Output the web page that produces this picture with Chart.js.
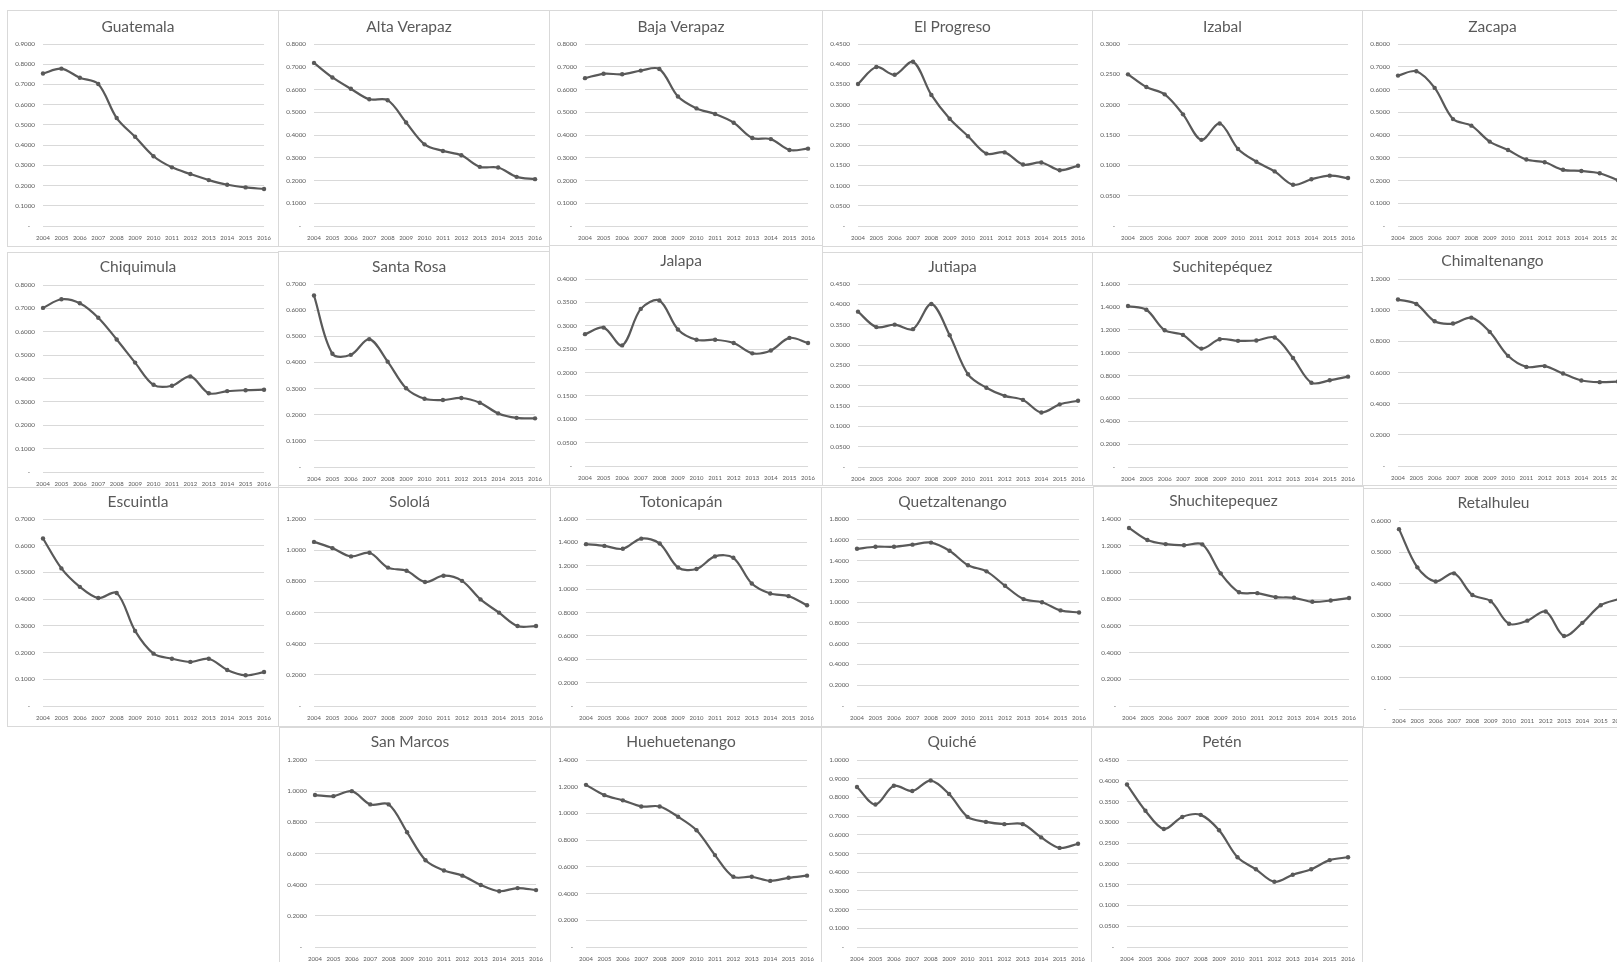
<!DOCTYPE html>
<html><head><meta charset="utf-8">
<script src="https://cdn.jsdelivr.net/npm/chart.js@4/dist/chart.umd.min.js"></script>
<style>
html,body{margin:0;padding:0;background:#fff;overflow:hidden;width:1617px;height:962px;position:relative;}
.p{position:absolute;background:#fff;box-shadow:inset 0 0 0 1px #d9d9d9;}
.p canvas{position:absolute;left:0;top:0;}
</style></head><body>
<script>
const years = ['2004','2005','2006','2007','2008','2009','2010','2011','2012','2013','2014','2015','2016'];

const guatemala      = [0.754,0.778,0.733,0.702,0.534,0.441,0.345,0.290,0.257,0.227,0.204,0.191,0.183];
const altaVerapaz    = [0.717,0.653,0.603,0.557,0.553,0.455,0.359,0.330,0.311,0.260,0.257,0.216,0.206];
const bajaVerapaz    = [0.650,0.669,0.667,0.683,0.690,0.569,0.517,0.492,0.454,0.387,0.382,0.334,0.340];
const elProgreso     = [0.351,0.393,0.374,0.406,0.324,0.265,0.222,0.179,0.182,0.152,0.157,0.138,0.149];
const izabal         = [0.250,0.229,0.217,0.184,0.142,0.169,0.127,0.106,0.090,0.068,0.077,0.083,0.079];
const zacapa         = [0.661,0.680,0.607,0.470,0.441,0.371,0.334,0.292,0.280,0.247,0.242,0.232,0.201];
const chiquimula     = [0.702,0.739,0.722,0.660,0.567,0.468,0.373,0.369,0.409,0.337,0.346,0.350,0.352];
const santaRosa      = [0.656,0.433,0.429,0.489,0.403,0.301,0.261,0.256,0.264,0.246,0.205,0.188,0.186];
const jalapa         = [0.282,0.296,0.258,0.336,0.354,0.292,0.270,0.270,0.263,0.241,0.247,0.274,0.263];
const jutiapa        = [0.382,0.344,0.350,0.339,0.401,0.324,0.228,0.195,0.175,0.165,0.134,0.154,0.163];
const suchitepequez  = [1.407,1.375,1.196,1.155,1.035,1.117,1.103,1.106,1.132,0.953,0.737,0.758,0.790];
const chimaltenango  = [1.068,1.040,0.929,0.914,0.952,0.861,0.707,0.636,0.641,0.594,0.549,0.538,0.542];
const escuintla      = [0.627,0.515,0.446,0.404,0.423,0.281,0.196,0.177,0.165,0.177,0.135,0.115,0.127];
const solola         = [1.053,1.013,0.960,0.983,0.888,0.868,0.796,0.836,0.803,0.684,0.599,0.513,0.513];
const totonicapan    = [1.385,1.370,1.345,1.432,1.390,1.185,1.172,1.280,1.268,1.048,0.962,0.940,0.862];
const quetzaltenango = [1.513,1.533,1.533,1.553,1.573,1.494,1.355,1.296,1.157,1.029,0.999,0.920,0.900];
const shuchitepequez = [1.333,1.243,1.212,1.203,1.210,0.993,0.852,0.845,0.815,0.810,0.780,0.790,0.808];
const retalhuleu     = [0.574,0.452,0.407,0.433,0.364,0.344,0.272,0.282,0.311,0.233,0.275,0.331,0.351];
const sanMarcos      = [0.975,0.968,1.000,0.915,0.915,0.736,0.557,0.491,0.458,0.398,0.358,0.378,0.365];
const huehuetenango  = [1.214,1.137,1.098,1.052,1.052,0.975,0.874,0.688,0.526,0.526,0.495,0.518,0.534];
const quiche         = [0.856,0.762,0.862,0.834,0.890,0.818,0.696,0.669,0.657,0.657,0.586,0.530,0.552];
const peten          = [0.391,0.328,0.284,0.313,0.318,0.281,0.216,0.187,0.157,0.174,0.187,0.209,0.216];

const titles = ['Guatemala','Alta Verapaz','Baja Verapaz','El Progreso','Izabal','Zacapa',
  'Chiquimula','Santa Rosa','Jalapa','Jutiapa','Suchitepéquez','Chimaltenango',
  'Escuintla','Sololá','Totonicapán','Quetzaltenango','Shuchitepequez','Retalhuleu',
  'San Marcos','Huehuetenango','Quiché','Petén'];
const series = [guatemala,altaVerapaz,bajaVerapaz,elProgreso,izabal,zacapa,
  chiquimula,santaRosa,jalapa,jutiapa,suchitepequez,chimaltenango,
  escuintla,solola,totonicapan,quetzaltenango,shuchitepequez,retalhuleu,
  sanMarcos,huehuetenango,quiche,peten];
const yMax  = [0.9,0.8,0.8,0.45,0.3,0.8, 0.8,0.7,0.4,0.45,1.6,1.2, 0.7,1.2,1.6,1.8,1.4,0.6, 1.2,1.4,1.0,0.45];
const yStep = [0.1,0.1,0.1,0.05,0.05,0.1, 0.1,0.1,0.05,0.05,0.2,0.2, 0.1,0.2,0.2,0.2,0.2,0.1, 0.2,0.2,0.1,0.05];

// layout: [left, top, width, height, plotTop, plotBottom, titleCenter]
const layoutBoxes = [
  [7,10,272,237,34,216,16.5],[278,10,272,237,34,216,16.5],[549,10,274,237,34,216,16.5],
  [822,10,271,237,34,216,16.5],[1092,10,271,237,34,216,16.5],[1362,10,271,237,34,216,16.5],
  [7,252,272,238,33,220,15],[278,251,272,235,33,216,15.5],[549,245,274,241,34,221,15.5],
  [822,252,271,234,32,215,15],[1092,252,271,234,32,215,15],[1362,245,271,241,34,221,15.5],
  [7,487,272,240,32,219,14.5],[278,487,273,240,32,219,14.5],[550,487,272,240,32,219,14.5],
  [821,487,273,240,32,219,14.5],[1093,486,271,241,33,220,14.5],[1363,488,271,240,33,221,14.5],
  [279,727,272,240,33,220,14.5],[550,727,272,240,33,220,14.5],[821,727,272,240,33,220,14.5],
  [1091,727,272,240,33,220,14.5]
];

const FONT = 'Lato, "Liberation Sans", sans-serif';
const TXT = '#595959';

titles.forEach((title, i) => {
  const [x, y, w, h, pTop, pBot, tC] = layoutBoxes[i];
  const div = document.createElement('div');
  div.className = 'p';
  div.style.left = x + 'px'; div.style.top = y + 'px';
  div.style.width = w + 'px'; div.style.height = h + 'px';
  const cv = document.createElement('canvas');
  cv.width = w; cv.height = h;
  cv.style.width = w + 'px'; cv.style.height = h + 'px';
  div.appendChild(cv);
  document.body.appendChild(div);

  const tSize = 15.5;
  const lh = tSize * 1.2;
  const padTop = tC - lh / 2;
  const padBot = pTop - lh - padTop;
  const max = yMax[i], step = yStep[i];

  new Chart(cv, {
    type: 'line',
    data: { labels: years, datasets: [{
      data: series[i], borderColor: TXT, backgroundColor: TXT, borderWidth: 2.2,
      pointRadius: 2.2, pointBorderWidth: 0, pointBackgroundColor: TXT,
      tension: 0.33, fill: false }] },
    options: {
      responsive: false, animation: false, devicePixelRatio: 1,
      layout: { padding: { left: 0, right: 10, top: 0, bottom: 0 } },
      plugins: {
        legend: { display: false }, tooltip: { enabled: false },
        title: { display: true, text: title, color: TXT,
          font: { family: FONT, size: tSize, weight: 'normal' },
          padding: { top: padTop, bottom: padBot } }
      },
      scales: {
        x: {
          grid: { display: false, drawTicks: false }, border: { display: false },
          ticks: { color: TXT, font: { family: FONT, size: 6 }, padding: 8,
            maxRotation: 0, minRotation: 0, autoSkip: false },
          afterFit: s => { s.height = h - pBot; }
        },
        y: {
          min: 0, max: max,
          grid: { color: '#d9d9d9', drawTicks: false, lineWidth: 1 }, border: { display: false },
          ticks: { color: TXT, font: { family: FONT, size: 6.3 }, padding: 8,
            callback: v => (Math.abs(v) < 1e-9 ? '-   ' : Number(v).toFixed(4)) },
          afterBuildTicks: s => {
            const n = Math.round(max / step);
            const t = [];
            for (let k = 0; k <= n; k++) t.push({ value: +(k * step).toFixed(4) });
            s.ticks = t;
          },
          afterFit: s => { s.width = 36; }
        }
      }
    }
  });
});
</script>
</body></html>
